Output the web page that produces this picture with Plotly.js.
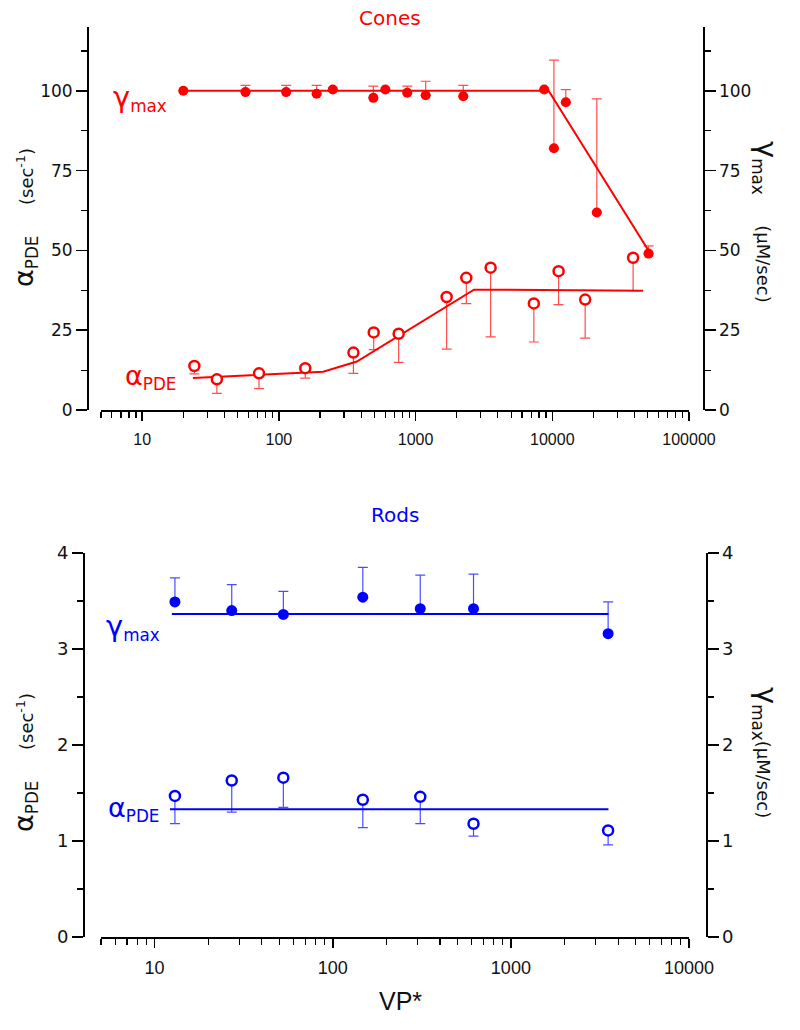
<!DOCTYPE html>
<html>
<head>
<meta charset="utf-8">
<script src="https://cdn.plot.ly/plotly-3.0.1.min.js"></script>
<style>html,body{margin:0;padding:0;background:#fff;}#chart{width:800px;height:1030px;}</style>
</head>
<body>
<div id="chart"></div>
<script>
// ---------- Cones data ----------
const coneGammaX   = [20, 57, 113, 189, 248, 491, 601, 869, 1186, 2233, 8730, 10280, 12560, 21170, 50600];
const coneGammaY   = [100, 99.6, 99.6, 99.1, 100.4, 97.8, 100.4, 99.4, 98.6, 98.3, 100.4, 82, 96.4, 61.9, 49];
const coneGammaErr = [0, 2.1, 2.1, 2.6, 0, 3.7, 0, 2.1, 4.4, 3.4, 0, 27.6, 4.0, 35.6, 2.4];

const coneAlphaX   = [24.1, 35.2, 71.6, 156, 351, 494, 752, 1687, 2350, 3540, 7330, 11120, 17400, 39000];
const coneAlphaY   = [13.8, 9.6, 11.5, 13.1, 18, 24.3, 23.9, 35.4, 41.4, 44.6, 33.4, 43.5, 34.6, 47.7];
const coneAlphaErr = [2.5, 4.4, 4.8, 3.1, 6.5, 5.4, 9.0, 16.3, 8.1, 21.7, 12.1, 10.5, 12.1, 10.3];

const coneGammaFitX = [20, 9400, 54000];
const coneGammaFitY = [100, 100, 48];
const coneAlphaFitX = [23.5, 211, 372, 2673, 46200];
const coneAlphaFitY = [10, 12, 15.2, 37.7, 37.4];

// ---------- Rods data ----------
const rodX        = [13.0, 27.1, 52.8, 147.5, 310, 617, 3515];
const rodGammaY   = [3.49, 3.40, 3.36, 3.54, 3.42, 3.42, 3.16];
const rodGammaErr = [0.25, 0.27, 0.24, 0.31, 0.35, 0.36, 0.33];
const rodAlphaY   = [1.47, 1.63, 1.66, 1.43, 1.46, 1.18, 1.11];
const rodAlphaErr = [0.29, 0.33, 0.31, 0.29, 0.28, 0.13, 0.15];

const rodGammaFitX = [12.5, 3530];
const rodGammaFitY = [3.365, 3.365];
const rodAlphaFitX = [12.2, 3530];
const rodAlphaFitY = [1.33, 1.33];

// ---------- tick labels ----------
const yTicksCones   = [0, 25, 50, 75, 100];
const yTicksRods    = [0, 1, 2, 3, 4];
const xTickValsCones = [10, 100, 1000, 10000, 100000];
const xTickTextCones = ['10', '100', '1000', '10000', '100000'];
const xTickValsRods  = [10, 100, 1000, 10000];
const xTickTextRods  = ['10', '100', '1000', '10000'];

const W = 800, H = 1030;
const px = v => v / W;
const py = v => 1 - v / H;
const zeros = a => a.map(() => 0);

const RED = '#ff0000', RED_ERR = 'rgba(255,0,0,0.7)';
const BLUE = '#0000ff', BLUE_ERR = 'rgba(0,0,255,0.7)';

const traces = [
  {x: coneGammaFitX, y: coneGammaFitY, xaxis: 'x', yaxis: 'y2', mode: 'lines', line: {color: RED, width: 2}, hoverinfo: 'skip'},
  {x: coneAlphaFitX, y: coneAlphaFitY, xaxis: 'x', yaxis: 'y', mode: 'lines', line: {color: RED, width: 2}, hoverinfo: 'skip'},
  {x: coneGammaX, y: coneGammaY, xaxis: 'x', yaxis: 'y2', mode: 'markers',
   marker: {symbol: 'circle', size: 10, color: RED},
   error_y: {type: 'data', symmetric: false, array: coneGammaErr, arrayminus: zeros(coneGammaErr), color: RED_ERR, thickness: 1.2, width: 5}},
  {x: coneAlphaX, y: coneAlphaY, xaxis: 'x', yaxis: 'y', mode: 'markers',
   marker: {symbol: 'circle', size: 10, color: '#ffffff', line: {color: RED, width: 2.5}},
   error_y: {type: 'data', symmetric: false, array: zeros(coneAlphaErr), arrayminus: coneAlphaErr, color: RED_ERR, thickness: 1.2, width: 5}},
  {x: rodGammaFitX, y: rodGammaFitY, xaxis: 'x2', yaxis: 'y4', mode: 'lines', line: {color: BLUE, width: 2}, hoverinfo: 'skip'},
  {x: rodAlphaFitX, y: rodAlphaFitY, xaxis: 'x2', yaxis: 'y3', mode: 'lines', line: {color: BLUE, width: 2}, hoverinfo: 'skip'},
  {x: rodX, y: rodGammaY, xaxis: 'x2', yaxis: 'y4', mode: 'markers',
   marker: {symbol: 'circle', size: 11, color: BLUE},
   error_y: {type: 'data', symmetric: false, array: rodGammaErr, arrayminus: zeros(rodGammaErr), color: BLUE_ERR, thickness: 1.2, width: 5}},
  {x: rodX, y: rodAlphaY, xaxis: 'x2', yaxis: 'y3', mode: 'markers',
   marker: {symbol: 'circle', size: 10, color: '#ffffff', line: {color: BLUE, width: 2.5}},
   error_y: {type: 'data', symmetric: false, array: zeros(rodAlphaErr), arrayminus: rodAlphaErr, color: BLUE_ERR, thickness: 1.2, width: 5}}
];

const FAM = 'DejaVu Sans, Verdana, sans-serif';
const XFAM = 'Liberation Sans, Arial, sans-serif';

function xAxis(anchor, range, vals, text, fsize) {
  return {
    type: 'log', domain: [px(101), px(689)], anchor: anchor,
    range: range, tickmode: 'array', tickvals: vals, ticktext: text,
    ticks: 'outside', ticklen: 9, tickwidth: 1.5, tickcolor: '#000', ticklabelstandoff: 5,
    minor: {ticks: 'outside', ticklen: 6, tickwidth: 1.2, tickcolor: '#000', dtick: 'D1', tick0: 0, showgrid: false},
    showline: true, linecolor: '#000', linewidth: 1.5,
    showgrid: false, zeroline: false, tickfont: {family: XFAM, size: fsize, color: '#111'}, fixedrange: true
  };
}
function yAxis(domain, pos, side, range, dtick, tickvals, fsize, overlay) {
  const a = {
    domain: domain, anchor: 'free', position: pos, side: side,
    range: range, tickmode: 'array', tickvals: tickvals,
    ticks: 'outside', ticklen: 11, tickwidth: 1.5, tickcolor: '#000',
    minor: {ticks: 'outside', ticklen: 6, tickwidth: 1.2, tickcolor: '#000', dtick: dtick / 2, tick0: 0, showgrid: false},
    showline: true, linecolor: '#000', linewidth: 1.5,
    showgrid: false, zeroline: false, tickfont: {family: FAM, size: fsize, color: '#111'}, fixedrange: true
  };
  if (overlay) a.overlaying = overlay;
  return a;
}

const topDomain = [py(410), py(27)];
const botDomain = [py(937), py(553)];

const NB = '\u00a0';
const gammaLbl = '<span style="font-size:29px">γ</span><sub>max</sub>';
const alphaLbl = '<span style="font-size:27px">α</span><sub>PDE</sub>';

const annotations = [
  {text: 'Cones', x: px(390), y: py(18), font: {family: FAM, size: 20, color: RED}},
  {text: 'Rods', x: px(395), y: py(515), font: {family: FAM, size: 20, color: BLUE}},
  {text: gammaLbl, x: px(111), y: py(98), xanchor: 'left', font: {family: FAM, size: 24, color: RED}},
  {text: alphaLbl, x: px(123), y: py(377), xanchor: 'left', font: {family: FAM, size: 24, color: RED}},
  {text: gammaLbl, x: px(104), y: py(627), xanchor: 'left', font: {family: FAM, size: 24, color: BLUE}},
  {text: alphaLbl, x: px(106), y: py(809), xanchor: 'left', font: {family: FAM, size: 24, color: BLUE}},
  {text: alphaLbl + NB + NB + NB + NB + '<span style="font-size:18px">(sec<sup>-1</sup>)</span>', x: px(25), y: py(218), textangle: -90,
   font: {family: FAM, size: 24, color: '#111'}},
  {text: gammaLbl + NB + NB + NB + NB + '<span style="font-size:18px">(μM/sec)</span>', x: px(766), y: py(222), textangle: 90,
   font: {family: FAM, size: 24, color: '#111'}},
  {text: alphaLbl + NB + NB + NB + NB + '<span style="font-size:18px">(sec<sup>-1</sup>)</span>', x: px(25), y: py(763), textangle: -90,
   font: {family: FAM, size: 24, color: '#111'}},
  {text: gammaLbl + '<span style="font-size:18px">(μM/sec)</span>', x: px(766), y: py(752), textangle: 90,
   font: {family: FAM, size: 24, color: '#111'}},
  {text: 'VP*', x: px(400), y: py(1001), font: {family: XFAM, size: 25, color: '#111'}}
].map(a => Object.assign({xref: 'paper', yref: 'paper', showarrow: false, xanchor: 'center', yanchor: 'middle'}, a));

const layout = {
  width: W, height: H,
  margin: {l: 0, r: 0, t: 0, b: 0},
  paper_bgcolor: '#fff', plot_bgcolor: 'rgba(0,0,0,0)',
  showlegend: false,
  xaxis: xAxis('y', [Math.log10(5), 5], xTickValsCones, xTickTextCones, 16),
  yaxis: yAxis(topDomain, px(87), 'left', [0, 120], 25, yTicksCones, 17),
  yaxis2: yAxis(topDomain, px(703), 'right', [0, 120], 25, yTicksCones, 17, 'y'),
  xaxis2: xAxis('y3', [Math.log10(5), 4], xTickValsRods, xTickTextRods, 18),
  yaxis3: yAxis(botDomain, px(83), 'left', [0, 4], 1, yTicksRods, 18),
  yaxis4: yAxis(botDomain, px(706), 'right', [0, 4], 1, yTicksRods, 18, 'y3'),
  annotations: annotations
};

Plotly.newPlot('chart', traces, layout, {staticPlot: true, displayModeBar: false});
</script>
</body>
</html>
